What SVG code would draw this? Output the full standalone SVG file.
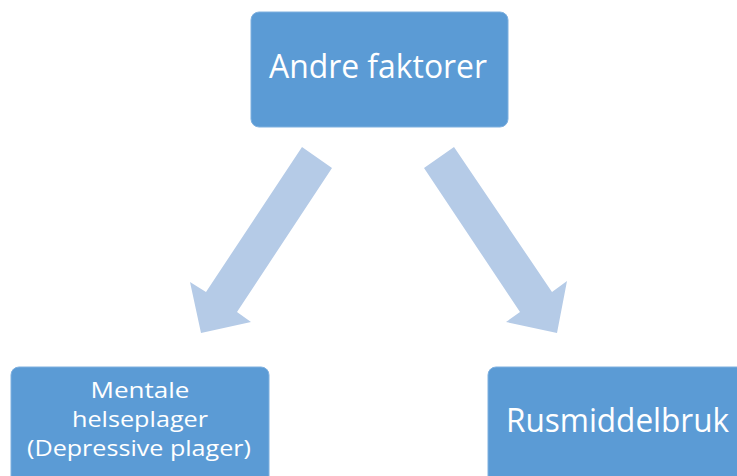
<svg xmlns="http://www.w3.org/2000/svg" width="737" height="476" viewBox="0 0 737 476">
<style>
.box{fill:#5B9BD5;stroke:#7FB0DF;stroke-width:1}
.arrow{fill:#B5CBE7}
.t{fill:#ffffff;font-family:"Open Sans","Liberation Sans",sans-serif;text-anchor:middle}
.big{font-size:32px}
.small{font-size:22px}
</style>
<rect width="737" height="476" fill="#ffffff"/>
<g id="connectors">
<polygon class="arrow" points="302,147 332,168 237,312 251,322 201,333 190,282 206,292"/>
<polygon class="arrow" points="454,147 424,168 520,312 506,322 557,333 567,281 552,292"/>
</g>
<g id="node-andre">
<rect class="box" x="251" y="12" width="257" height="115" rx="8"/>
<text class="t big" x="378" y="78" textLength="218" lengthAdjust="spacingAndGlyphs">Andre faktorer</text>
</g>
<g id="node-mentale">
<rect class="box" x="11" y="367" width="258" height="125" rx="8"/>
<text class="t small" x="140" y="398" textLength="99" lengthAdjust="spacingAndGlyphs">Mentale</text>
<text class="t small" x="140" y="427" textLength="136" lengthAdjust="spacingAndGlyphs">helseplager</text>
<text class="t small" x="139" y="456" textLength="224" lengthAdjust="spacingAndGlyphs">(Depressive plager)</text>
</g>
<g id="node-rus">
<rect class="box" x="488" y="367" width="259" height="125" rx="8"/>
<text class="t big" x="617.5" y="432" textLength="223" lengthAdjust="spacingAndGlyphs">Rusmiddelbruk</text>
</g>
</svg>
